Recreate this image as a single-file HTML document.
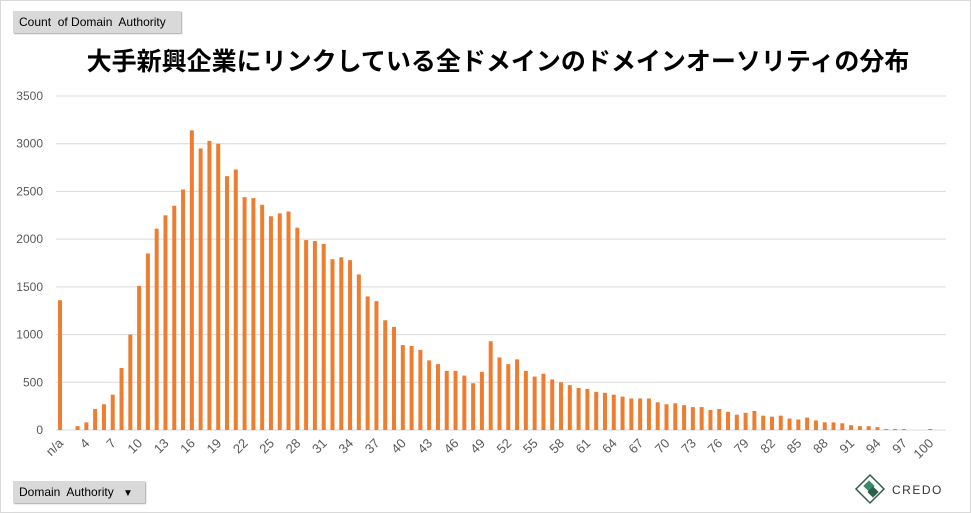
<!DOCTYPE html>
<html><head><meta charset="utf-8"><style>
body{margin:0;background:#fff;font-family:"Liberation Sans","Noto Sans CJK JP",sans-serif}
#wrap{position:relative;width:969px;height:511px;border:1px solid #d9d9d9;overflow:hidden}
.btn{position:absolute;background:#d9d9d9;color:#000;font-size:12px;padding:3px 6px;box-shadow:1px 1px 1px #aaa}
</style></head><body>
<div id="wrap">
<div class="btn" style="left:12px;top:10px;height:16px;width:156px;line-height:16px">Count&nbsp; of Domain&nbsp; Authority</div>
<div class="btn" style="left:12px;top:480px;height:16px;width:120px;line-height:16px">Domain&nbsp; Authority <span style="font-size:10px;margin-left:6px">▼</span></div>
<svg id="chart" width="969" height="511" style="position:absolute;left:0;top:0">
<text x="497" y="69" text-anchor="middle" font-size="25" font-weight="bold" fill="#000" font-family="Liberation Sans, Noto Sans CJK JP, sans-serif">大手新興企業にリンクしている全ドメインのドメインオーソリティの分布</text>
<g id="grid"></g><g id="bars"></g><g id="xl"></g>
<g transform="translate(853,472)">
<polygon points="16,2 30,16 16,30 2,16" fill="none" stroke="#2e5e4e" stroke-width="1.5"/>
<rect x="11" y="9" width="8" height="8" fill="#3a8a6a" transform="rotate(45 15 13)"/>
<rect x="15" y="15" width="8" height="8" fill="#2e5e4e" transform="rotate(45 19 19)"/>
<text x="38" y="21" font-size="12" fill="#333" letter-spacing="1.5">CREDO</text>
</g>
</svg>
</div>
<script>
const categories=["n/a"];for(let i=2;i<=100;i++)categories.push(String(i));
const values=[1360,0,40,80,220,270,370,650,1000,1510,1850,2110,2250,2350,2520,3140,2950,3030,3000,2660,2730,2440,2430,2360,2240,2270,2290,2120,1990,1980,1950,1790,1810,1780,1630,1400,1350,1150,1080,890,880,840,730,690,620,620,570,490,610,930,760,690,740,620,560,590,530,500,470,440,430,400,390,370,350,330,330,330,290,270,280,260,240,240,210,220,190,160,180,200,150,140,150,120,110,130,100,80,80,70,50,40,40,30,10,10,10,0,0,10];
const yTicks=[0,500,1000,1500,2000,2500,3000,3500];
const NS="http://www.w3.org/2000/svg";
const y0=429,yTop=95,yMax=3500,left=54.6,band=8.79;
const y=v=>y0-(v/yMax)*(y0-yTop);
const x=i=>left+band*(i+0.5);
const grid=document.getElementById('grid'),bars=document.getElementById('bars'),xl=document.getElementById('xl');
yTicks.forEach(t=>{
 const l=document.createElementNS(NS,'line');
 
 
 l.setAttribute('x1',55);l.setAttribute('x2',945);l.setAttribute('y1',y(t));l.setAttribute('y2',y(t));
 l.setAttribute('stroke','#d9d9d9');grid.appendChild(l);
 const tx=document.createElementNS(NS,'text');
 
 
 tx.setAttribute('x',42);tx.setAttribute('y',y(t)+4);tx.setAttribute('text-anchor','end');
 tx.setAttribute('font-size','12');tx.setAttribute('fill','#595959');tx.textContent=t;grid.appendChild(tx);
});
values.forEach((v,i)=>{
 const r=document.createElementNS(NS,'rect');
 
 
 r.setAttribute('x',x(i)-2);r.setAttribute('width',4);r.setAttribute('y',y(v));r.setAttribute('height',y0-y(v));
 r.setAttribute('fill','#ed7d31');bars.appendChild(r);
});
categories.forEach((c,i)=>{
 if(i%3!==0)return;
 const t=document.createElementNS(NS,'text');
 
 
 const xx=x(i)+4,yy=443;
 t.setAttribute('x',xx);t.setAttribute('y',yy);t.setAttribute('text-anchor','end');
 t.setAttribute('transform','rotate(-45 '+xx+' '+yy+')');
 t.setAttribute('font-size','13');t.setAttribute('fill','#595959');t.textContent=c;xl.appendChild(t);
});
</script>
</body></html>
